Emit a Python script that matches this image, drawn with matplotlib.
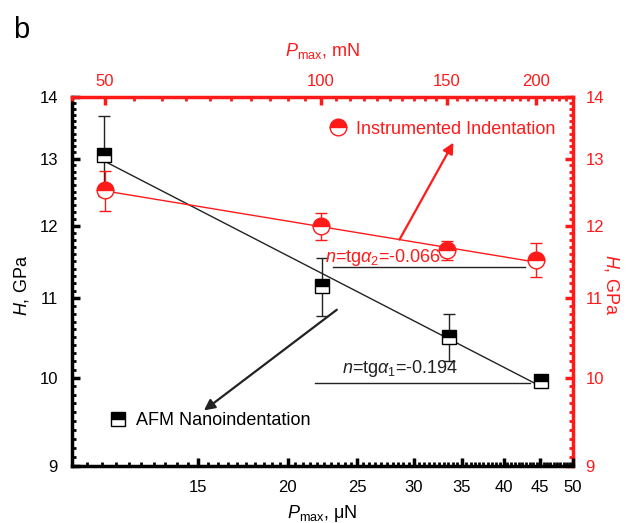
import matplotlib
matplotlib.use("Agg")
import matplotlib.pyplot as plt
import numpy as np
from matplotlib.ticker import FixedLocator, MultipleLocator, FormatStrFormatter, NullFormatter
from matplotlib.lines import Line2D

plt.rcParams['font.family'] = ['Liberation Sans', 'DejaVu Sans']
plt.rcParams['mathtext.fontset'] = 'custom'
plt.rcParams['mathtext.rm'] = 'Liberation Sans'
plt.rcParams['mathtext.it'] = 'Liberation Sans:italic'
plt.rcParams['mathtext.bf'] = 'Liberation Sans:bold'

# AFM nanoindentation (bottom axis, uN)
afm_p = [11.1, 22.3, 33.6, 45.1]
afm_h = [13.06, 11.16, 10.50, 9.96]
afm_err = [0.62, 0.39, 0.30, 0.0]

# instrumented indentation (top axis, mN)
ii_p = [50, 100, 150, 200]
ii_h = [12.52, 11.99, 11.65, 11.52]
ii_err = [0.30, 0.20, 0.13, 0.24]

bottom_ticks = [15, 20, 25, 30, 35, 40, 45, 50]
top_ticks = [50, 100, 150, 200]
h_ticks = [9, 10, 11, 12, 13, 14]

RED = '#ff1a1a'
DARK = '#222222'

fig = plt.figure(figsize=(6.3, 5.23), dpi=100)
ax = fig.add_axes([72/630, 1-466/523, 501/630, 369/523])
ax.set_xscale('log')
ax.set_yscale('log')
ax.set_xlim(10, 50)
ax.set_ylim(9, 14)

axt = ax.twiny()
axt.set_xscale('log')
axt.set_xlim(45, 225)

# fits in log-log
bx = np.log10(afm_p); by = np.log10(afm_h)
kb, bb = np.polyfit(bx, by, 1)
xf = np.array([afm_p[0], afm_p[-1]*1.01])
ax.plot(xf, 10**(kb*np.log10(xf)+bb), color=DARK, lw=1, zorder=2)

rx = np.log10(ii_p); ry = np.log10(ii_h)
kr, br = np.polyfit(rx, ry, 1)
xr = np.array([ii_p[0], ii_p[-1]*1.02])
axt.plot(xr, 10**(kr*np.log10(xr)+br), color=RED, lw=1, zorder=2)

ax.errorbar(afm_p, afm_h, yerr=afm_err, fmt='none', ecolor=DARK, elinewidth=1, capsize=4, capthick=1, zorder=3)
ax.plot(afm_p, afm_h, ls='none', marker='s', ms=9.5, fillstyle='top', markerfacecolor='black',
        markerfacecoloralt='white', markeredgecolor='black', markeredgewidth=1, zorder=4)
axt.errorbar(ii_p, ii_h, yerr=ii_err, fmt='none', ecolor=RED, elinewidth=1, capsize=4, capthick=1, zorder=3)
axt.plot(ii_p, ii_h, ls='none', marker='o', ms=12, fillstyle='top', markerfacecolor=RED,
         markerfacecoloralt='white', markeredgecolor=RED, markeredgewidth=1, zorder=4)

# spines
for s in ['top', 'right']:
    ax.spines[s].set_visible(False)
for s in ['left', 'bottom']:
    ax.spines[s].set_linewidth(2.5)
    ax.spines[s].set_color('black')
for s in ['left', 'bottom', 'right']:
    axt.spines[s].set_visible(False)
axt.spines['top'].set_color(RED)
axt.spines['top'].set_linewidth(2.5)

# ticks
ax.xaxis.set_major_locator(FixedLocator(bottom_ticks))
ax.xaxis.set_major_formatter(FormatStrFormatter('%g'))
ax.xaxis.set_minor_locator(MultipleLocator(0.5))
ax.xaxis.set_minor_formatter(NullFormatter())
ax.yaxis.set_major_locator(FixedLocator(h_ticks))
ax.yaxis.set_major_formatter(FormatStrFormatter('%g'))
ax.yaxis.set_minor_locator(MultipleLocator(0.1))
ax.yaxis.set_minor_formatter(NullFormatter())
ax.tick_params(which='major', direction='in', length=6, width=2.5, labelsize=12, colors='black')
ax.tick_params(which='minor', direction='in', length=3, width=2)
ax.tick_params(axis='x', which='major', pad=10)
ax.tick_params(axis='y', which='major', pad=10)

axt.xaxis.set_major_locator(FixedLocator(top_ticks))
axt.xaxis.set_major_formatter(FormatStrFormatter('%g'))
axt.xaxis.set_minor_locator(MultipleLocator(5))
axt.xaxis.set_minor_formatter(NullFormatter())
axt.tick_params(which='major', direction='in', length=6, width=2.5, labelsize=12, pad=6, colors=RED)
axt.tick_params(which='minor', direction='in', length=3, width=2, colors=RED)

sec = ax.secondary_yaxis('right')
sec.spines['right'].set_color(RED)
sec.spines['right'].set_linewidth(2.5)
sec.yaxis.set_major_locator(FixedLocator(h_ticks))
sec.yaxis.set_major_formatter(FormatStrFormatter('%g'))
sec.yaxis.set_minor_locator(MultipleLocator(0.1))
sec.yaxis.set_minor_formatter(NullFormatter())
sec.tick_params(which='major', direction='in', length=6, width=2.5, labelsize=12, pad=9, colors=RED)
sec.tick_params(which='minor', direction='in', length=3, width=2, colors=RED)

# labels
ax.set_xlabel(r'$P_{\mathrm{max}}$, μN', fontsize=13, labelpad=6)
ax.set_ylabel(r'$H$, GPa', fontsize=13, va='center', ha='center')
ax.yaxis.set_label_coords(-0.1, 0.49)
axt.set_xlabel(r'$P_{\mathrm{max}}$, mN', fontsize=13, color=RED, labelpad=13)
fig.text(612/630, 1-285/523, r'$H$, GPa', fontsize=13, color=RED, rotation=270,
         va='center', ha='center')

fig.text(13/630, 1-38/523, 'b', fontsize=21)

# legends
h_ii = Line2D([], [], ls='none', marker='o', ms=12, fillstyle='top', markerfacecolor=RED,
              markerfacecoloralt='white', markeredgecolor=RED)
h_afm = Line2D([], [], ls='none', marker='s', ms=9.5, fillstyle='top', markerfacecolor='black',
               markerfacecoloralt='white', markeredgecolor='black')
leg1 = ax.legend([h_ii], ['Instrumented Indentation'], loc='center left', bbox_to_anchor=(0.513, 0.913),
                 frameon=False, fontsize=13, handlelength=1, handletextpad=0.5, borderpad=0, borderaxespad=0)
for t in leg1.get_texts():
    t.set_color(RED)
ax.add_artist(leg1)
ax.legend([h_afm], ['AFM Nanoindentation'], loc='center left', bbox_to_anchor=(0.074, 0.122),
          frameon=False, fontsize=13, handlelength=1, handletextpad=0.5, borderpad=0, borderaxespad=0)

# slope annotations
ax.plot([0.52, 0.904], [0.540, 0.540], transform=ax.transAxes, color=DARK, lw=1)
ax.plot([0.485, 0.914], [0.224, 0.224], transform=ax.transAxes, color=DARK, lw=1)
ax.text(0.505, 0.566, r'$n$=tg$\alpha_2$=-0.066', transform=ax.transAxes, color=RED, fontsize=13, va='center')
ax.text(0.538, 0.263, r'$n$=tg$\alpha_1$=-0.194', transform=ax.transAxes, color=DARK, fontsize=13, va='center')

ax.annotate('', xy=(0.764, 0.883), xytext=(0.651, 0.607), xycoords='axes fraction',
            arrowprops=dict(arrowstyle='-|>', color=RED, lw=1.6, mutation_scale=16))
ax.annotate('', xy=(0.259, 0.146), xytext=(0.533, 0.428), xycoords='axes fraction',
            arrowprops=dict(arrowstyle='-|>', color=DARK, lw=1.6, mutation_scale=16))

fig.savefig('out.png', dpi=100)
